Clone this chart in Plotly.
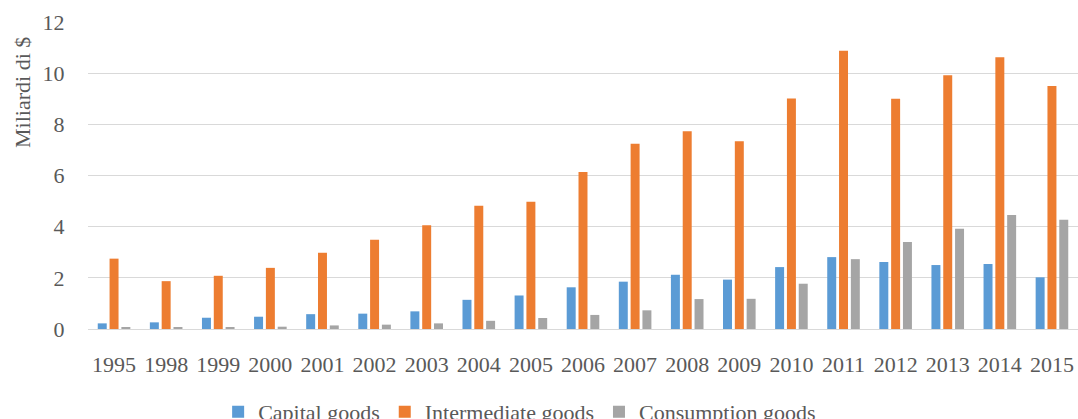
import plotly.graph_objects as go

years = ["1995", "1998", "1999", "2000", "2001", "2002", "2003", "2004", "2005", "2006",
         "2007", "2008", "2009", "2010", "2011", "2012", "2013", "2014", "2015"]
capital = [0.22, 0.26, 0.44, 0.48, 0.58, 0.60, 0.69, 1.14, 1.31, 1.63,
           1.85, 2.12, 1.93, 2.42, 2.81, 2.62, 2.50, 2.54, 2.02]
intermediate = [2.75, 1.87, 2.08, 2.39, 2.98, 3.49, 4.06, 4.82, 4.97, 6.14,
                7.24, 7.73, 7.34, 9.01, 10.88, 9.00, 9.92, 10.62, 9.50]
consumption = [0.04, 0.05, 0.07, 0.09, 0.14, 0.17, 0.22, 0.32, 0.43, 0.55,
               0.73, 1.17, 1.18, 1.77, 2.73, 3.40, 3.92, 4.46, 4.27]

series = [
    ("Capital goods", capital, "#5B9BD5"),
    ("Intermediate goods", intermediate, "#ED7D31"),
    ("Consumption goods", consumption, "#A5A5A5"),
]

FONT = "Liberation Serif"
TEXT = "#595959"

fig = go.Figure()
for name, vals, color in series:
    fig.add_trace(go.Bar(x=years, y=vals, name=name, marker_color=color,
                         marker_line_width=0))

fig.update_layout(
    width=1078, height=419,
    margin=dict(l=88, r=0, t=22, b=90, autoexpand=False),
    paper_bgcolor="white", plot_bgcolor="white",
    barmode="group", bargap=0.32, bargroupgap=0.24,
    font=dict(family=FONT, size=22, color=TEXT),
    showlegend=True,
    legend=dict(orientation="h", x=0.436, xanchor="center", y=-0.27, yanchor="middle",
                font=dict(family=FONT, size=22, color=TEXT), traceorder="normal",
                itemwidth=30),
)
fig.update_xaxes(type="category", showgrid=False, showline=False, zeroline=False,
                 ticks="outside", ticklen=16, tickcolor="rgba(0,0,0,0)",
                 tickfont=dict(family=FONT, size=22, color=TEXT))
fig.update_yaxes(range=[0, 12], dtick=2, showgrid=True, gridcolor="#D9D9D9", gridwidth=1.3,
                 zeroline=True, zerolinecolor="#D9D9D9", zerolinewidth=1.3,
                 showline=False, ticks="outside", ticklen=18, tickcolor="rgba(0,0,0,0)",
                 tickfont=dict(family=FONT, size=22, color=TEXT))
fig.add_annotation(text="Miliardi di $", xref="paper", yref="paper",
                   x=-0.0657, y=0.772, xanchor="center", yanchor="middle",
                   textangle=-90, showarrow=False,
                   font=dict(family=FONT, size=22, color=TEXT))

fig.write_html("out.html")
